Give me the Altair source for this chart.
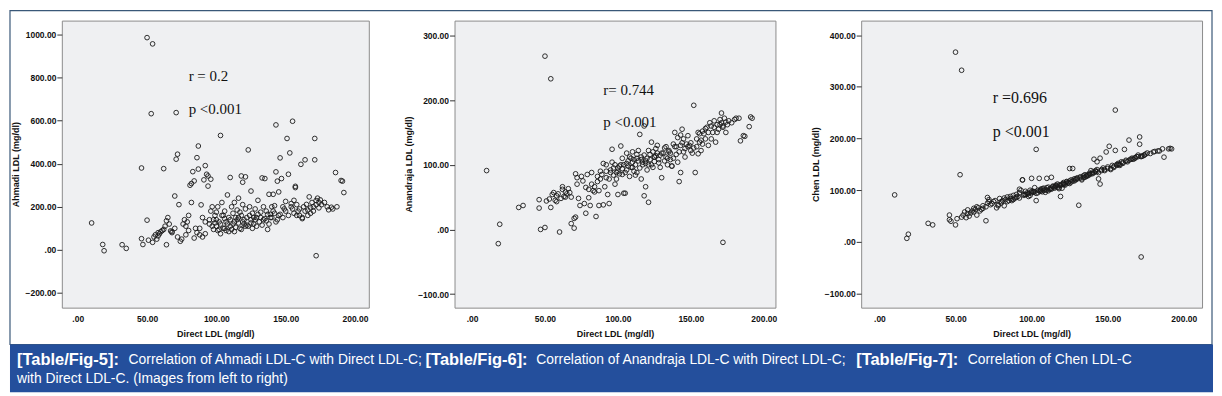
import altair as alt
import pandas as pd

# ---------------- data ----------------
direct_ldl = [
    10, 18, 19, 32, 35, 46, 46, 47, 50, 50,
    51, 53, 54, 54, 55, 56, 57, 58, 58, 59,
    60, 61, 62, 62, 63, 64, 64, 65, 66, 67,
    68, 68, 70, 70, 71, 71, 72, 72, 73, 74,
    75, 76, 77, 78, 78, 79, 80, 80, 81, 82,
    82, 83, 84, 84, 85, 86, 86, 87, 87, 88,
    89, 90, 90, 91, 92, 92, 93, 94, 94, 95,
    96, 96, 97, 98, 98, 99, 100, 100, 101, 101,
    102, 103, 103, 104, 104, 105, 106, 106, 107, 108,
    108, 109, 110, 110, 111, 111, 112, 113, 113, 114,
    115, 115, 116, 116, 117, 118, 118, 119, 119, 120,
    121, 121, 122, 123, 123, 124, 125, 125, 126, 127,
    128, 129, 130, 131, 132, 133, 134, 134, 135, 136,
    137, 138, 139, 140, 141, 142, 143, 143, 144, 145,
    145, 146, 147, 148, 149, 150, 151, 152, 153, 154,
    155, 155, 156, 157, 157, 158, 159, 160, 161, 162,
    163, 164, 165, 166, 167, 168, 169, 170, 171, 171,
    172, 172, 173, 174, 175, 176, 178, 180, 181, 183,
    184, 186, 187, 190, 191, 192,
    97, 99, 102, 105, 107, 109, 112, 114, 117, 118,
    120, 122, 124, 126, 128, 130, 133, 135, 137, 138,
    140, 142, 144, 146, 148, 150, 152, 154, 156, 158,
    160, 162, 164, 166, 168, 170, 172, 174, 88, 92,
    95, 100, 103, 106, 110, 113, 116, 119, 121, 125,
    127, 129, 132, 136, 139, 141, 143,
]
ahmadi_ldl = [
    125, 25, -4, 24, 7, 380, 52, 25, 138, 985,
    45, 632, 956, 35, 60, 70, 50, 80, 65, 75,
    85, 90, 377, 95, 110, 24, 135, 150, 120, 88,
    80, 85, 250, 100, 637, 421, 444, 60, 210, 40,
    50, 120, 140, 70, 110, 130, 90, 160, 300, 308,
    220, 363, 320, 55, 100, 428, 80, 482, 375, 70,
    209, 150, 60, 325, 391, 130, 351, 343, 296, 120,
    328, 180, 200, 95, 140, 160, 110, 175, 90, 200,
    130, 531, 75, 160, 220, 100, 145, 180, 90, 255,
    120, 150, 336, 110, 200, 95, 170, 130, 220, 105,
    185, 140, 125, 240, 100, 343, 160, 314, 210, 120,
    339, 190, 150, 464, 110, 200, 273, 140, 170, 120,
    190, 150, 230, 130, 175, 334, 200, 140, 331, 180,
    95, 258, 150, 200, 258, 170, 580, 362, 319, 269,
    160, 427, 331, 200, 190, 225, 517, 351, 450, 200,
    597, 190, 230, 295, 289, 210, 180, 160, 397, 145,
    200, 418, 211, 185, 246, 170, 220, 200, 517, 418,
    -27, 229, 240, 195, 232, 210, 220, 200, 186, 198,
    190, 359, 200, 322, 319, 266,
    110, 125, 95, 160, 130, 85, 120, 150, 175, 95,
    140, 115, 160, 100, 140, 165, 115, 145, 165, 120,
    150, 205, 140, 165, 150, 180, 160, 215, 170, 160,
    190, 150, 180, 160, 195, 180, 210, 220, 100, 75,
    140, 140, 120, 100, 140, 85, 150, 130, 110, 125,
    150, 110, 150, 135, 165, 180, 130,
]
anandraja_ldl = [
    91, -22, 8, 34, 37, 33, 46, 0, 3, 268,
    44, 47, 233, 34, 54, 57, 45, 52, 43, 55,
    -4, 48, 62, 66, 51, 58, 50, 55, 63, 57,
    9, 50, 17, 2, 19, 86, 80, 70, 48, 37,
    82, 75, 40, 25, 65, 85, 62, 49, 37, 70,
    88, 60, 58, 66, 20, 82, 74, 37, 60, 90,
    85, 102, 38, 66, 100, 90, 54, 40, 78, 92,
    124, 104, 84, 100, 70, 88, 54, 95, 86, 98,
    129, 110, 85, 56, 100, 56, 118, 92, 106, 112,
    82, 96, 120, 104, 108, 90, 100, 116, 110, 122,
    147, 95, 112, 78, 104, 160, 52, 106, 66, 110,
    42, 100, 116, 135, 100, 120, 112, 105, 125, 118,
    108, 115, 80, 118, 126, 128, 110, 100, 120, 108,
    98, 132, 150, 116, 142, 74, 130, 88, 155, 120,
    140, 125, 132, 145, 130, 122, 118, 192, 88, 128,
    117, 150, 135, 138, 122, 152, 148, 156, 158, 130,
    165, 160, 150, 168, 135, 162, 155, 170, 180, 165,
    -20, 160, 172, 150, 162, 168, 165, 170, 172, 172,
    137, 145, 144, 159, 174, 172,
    95, 78, 100, 88, 98, 110, 84, 106, 100, 115,
    92, 108, 96, 114, 103, 118, 112, 122, 98, 110,
    128, 120, 134, 112, 128, 134, 126, 140, 148, 132,
    140, 150, 140, 158, 150, 162, 158, 166, 78, 80,
    88, 90, 94, 102, 96, 88, 108, 102, 122, 112,
    130, 96, 106, 118, 128, 104, 146,
]
chen_ldl = [
    91, 7, 15, 36, 33, 52, 43, 40, 33, 367,
    45, 130, 332, 48, 52, 58, 47, 55, 62, 50,
    56, 60, 65, 58, 63, 52, 68, 66, 60, 63,
    65, 70, 41, 68, 86, 75, 82, 78, 72, 74,
    78, 80, 66, 70, 72, 84, 75, 78, 80, 85,
    70, 82, 78, 87, 80, 84, 88, 83, 80, 90,
    85, 92, 86, 88, 102, 95, 100, 120, 120, 90,
    98, 92, 95, 88, 94, 100, 95, 123, 98, 96,
    105, 179, 80, 100, 95, 123, 98, 102, 97, 104,
    100, 96, 123, 100, 106, 99, 103, 125, 104, 107,
    106, 104, 110, 108, 112, 105, 103, 109, 88, 112,
    115, 113, 110, 116, 117, 114, 142, 118, 120, 142,
    122, 120, 124, 71, 126, 122, 128, 125, 130, 127,
    130, 133, 138, 132, 160, 136, 155, 140, 122, 112,
    162, 138, 143, 140, 174, 145, 185, 142, 148, 144,
    255, 177, 148, 150, 152, 150, 155, 152, 179, 158,
    155, 197, 160, 162, 160, 163, 165, 168, 203, 189,
    -29, 165, 166, 168, 170, 172, 171, 174, 175, 176,
    176, 180, 164, 180, 181, 180,
    92, 90, 97, 99, 103, 101, 102, 108, 106, 110,
    104, 112, 115, 116, 118, 122, 120, 125, 128, 130,
    135, 138, 134, 140, 138, 142, 140, 146, 150, 148,
    154, 156, 158, 160, 162, 165, 166, 168, 82, 85,
    92, 98, 94, 100, 105, 102, 108, 110, 111, 113,
    118, 122, 124, 128, 132, 134, 136,
]

x_ticks = [0, 50, 100, 150, 200]
y_titles = ["Ahmadi LDL (mg/dl)", "Anandraja  LDL (mg/dl)", "Chen LDL (mg/dl)"]
y_ticks = [
    [-200, 0, 200, 400, 600, 800, 1000],
    [-100, 0, 100, 200, 300],
    [-100, 0, 100, 200, 300, 400],
]
r_labels = ["r = 0.2", "r= 0.744", "r =0.696"]
p_labels = ["p <0.001", "p <0.001", "p <0.001"]

caption_text = [
    "[Table/Fig-5]:",
    "Correlation of Ahmadi LDL-C with Direct LDL-C;",
    "[Table/Fig-6]:",
    "Correlation of Anandraja LDL-C with Direct LDL-C;",
    "[Table/Fig-7]:",
    "Correlation of Chen LDL-C",
    "with Direct LDL-C. (Images from left to right)",
]
caption_bold = [True, False, True, False, True, False, False]

# ---------------- layout / style ----------------
cols = ["ahmadi", "anandraja", "chen"]
x_domains = [[-11.5, 210], [-12, 208], [-12, 212]]
y_domains = [[-268, 1064], [-121, 323], [-127, 428]]
widths = [308, 322, 342]
PLOT_H = 288
GAP = 86
note_pos = [  # (x, y of r line, y of p line) in data units
    (80, 805, 655),
    (90, 215, 166),
    (74.5, 279, 212),
]
note_size = [15, 15, 16]
caption_x = [-45, 67, 365, 476, 797, 909, -45]
caption_line = [0, 0, 0, 0, 0, 0, 1]
BAND_TOP = 325
BAND_H = 48
caption_y = [BAND_TOP + 16, BAND_TOP + 35]
total_w = sum(widths) + 2 * GAP
left_ext = -52
right_ext = total_w + 10

df = pd.DataFrame({
    "direct": direct_ldl,
    "ahmadi": ahmadi_ldl,
    "anandraja": anandraja_ldl,
    "chen": chen_ldl,
})

label_expr = "datum.value == 0 ? '.00' : format(datum.value, '.2f')"


def decorations():
    one = pd.DataFrame({"a": [0]})
    frame = alt.Chart(one).mark_rect(fill="transparent", stroke="#3a5878", strokeWidth=1.2).encode(
        x=alt.value(left_ext), x2=alt.value(right_ext), y=alt.value(-10), y2=alt.value(BAND_TOP)
    )
    band = alt.Chart(one).mark_rect(color="#244f9c").encode(
        x=alt.value(left_ext), x2=alt.value(right_ext + 1),
        y=alt.value(BAND_TOP), y2=alt.value(BAND_TOP + BAND_H)
    )
    layers = [frame, band]
    for k in range(len(caption_text)):
        seg = alt.Chart(pd.DataFrame({"t": [caption_text[k]]})).mark_text(
            font="Liberation Sans",
            fontSize=16.5 if caption_bold[k] else 13.9,
            fontWeight="bold" if caption_bold[k] else "normal",
            color="white", align="left", baseline="middle",
        ).encode(
            x=alt.value(caption_x[k]),
            y=alt.value(caption_y[caption_line[k]]),
            text="t:N",
        )
        layers.append(seg)
    return layers


def panel(i):
    col = cols[i]
    x = alt.X(
        "direct:Q",
        scale=alt.Scale(domain=x_domains[i], nice=False, zero=False),
        axis=alt.Axis(values=x_ticks, title="Direct LDL (mg/dl)", labelExpr=label_expr,
                      tickSize=0, labelPadding=7, titlePadding=6),
    )
    y = alt.Y(
        f"{col}:Q",
        scale=alt.Scale(domain=y_domains[i], nice=False, zero=False),
        axis=alt.Axis(values=y_ticks[i], title=y_titles[i], labelExpr=label_expr,
                      tickSize=5, labelPadding=1, titlePadding=4),
    )
    pts = alt.Chart(df).mark_point(
        shape="circle", filled=False, size=22, strokeWidth=0.9, color="#1a1a1a", opacity=1
    ).encode(x=x, y=y)
    nx, ry, py = note_pos[i]
    notes = pd.DataFrame({"direct": [nx, nx], col: [ry, py], "t": [r_labels[i], p_labels[i]]})
    ann = alt.Chart(notes).mark_text(
        font="Liberation Serif", fontSize=note_size[i], align="left", baseline="middle", color="#111111"
    ).encode(x=x, y=y, text="t:N")
    layers = [pts, ann]
    if i == 0:
        layers = decorations() + layers
    return alt.layer(*layers).properties(width=widths[i], height=PLOT_H)


chart = alt.hconcat(panel(0), panel(1), panel(2), spacing=GAP, bounds="flush").properties(
    padding=0
).configure(
    background="white", font="Liberation Sans"
).configure_view(
    fill="#eff0f2", stroke="#8c8c8c", strokeWidth=1
).configure_axis(
    domain=False, grid=False, labelFont="Liberation Sans", labelFontSize=8.5,
    labelFontWeight="bold", labelColor="#111111", titleFont="Liberation Sans",
    titleFontSize=9, titleFontWeight="bold", titleColor="#111111", tickColor="#333333",
)

chart.save("out.html", embed_options={"renderer": "svg", "actions": False})
